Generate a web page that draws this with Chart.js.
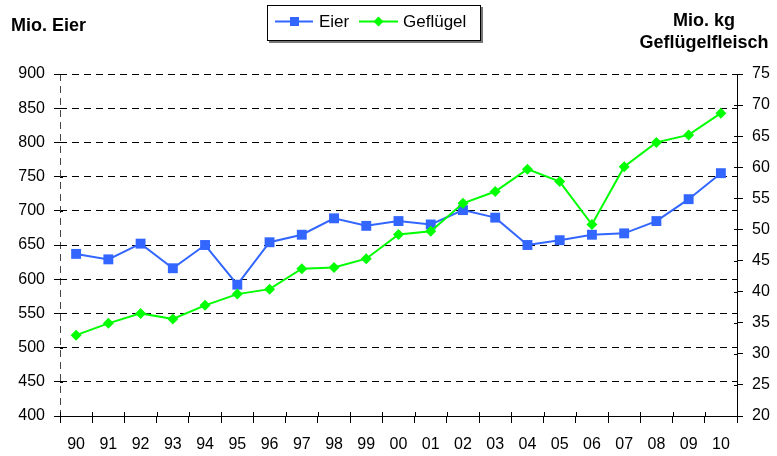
<!DOCTYPE html>
<html>
<head>
<meta charset="utf-8">
<script src="https://cdn.jsdelivr.net/npm/chart.js@4/dist/chart.umd.min.js"></script>
<style>
html,body{margin:0;padding:0;background:#fff;}
#wrap{position:relative;width:777px;height:456px;}
</style>
</head>
<body>
<div id="wrap"><canvas id="c" width="777" height="456"></canvas></div>
<script>
const categories = ['90','91','92','93','94','95','96','97','98','99','00','01','02','03','04','05','06','07','08','09','10'];
const eier = [637, 629, 652, 616, 650, 592, 654, 665, 689, 678, 685, 680, 701, 690, 650, 657, 665, 667, 685, 717, 755];
const gefluegel = [33.0, 34.9, 36.5, 35.6, 37.8, 39.6, 40.4, 43.7, 43.9, 45.3, 49.2, 49.7, 54.2, 56.1, 59.7, 57.7, 50.8, 60.1, 64.0, 65.2, 68.7];
const seriesNames = ['Eier', 'Geflügel'];
const leftTitle = 'Mio. Eier';
const rightTitle = ['Mio. kg', 'Geflügelfleisch'];

const FONT = '"Liberation Sans", Arial, sans-serif';
const BLUE = '#3366FF';
const GREEN = '#00FF00';

const decor = {
  id: 'decor',
  beforeDatasetsDraw(chart) {
    const ctx = chart.ctx;
    const a = chart.chartArea;
    ctx.save();
    // dashed left axis line
    ctx.strokeStyle = '#444';
    ctx.lineWidth = 1;
    ctx.setLineDash([7,5]);
    ctx.beginPath();
    ctx.moveTo(Math.round(a.left) + 0.5, a.top);
    ctx.lineTo(Math.round(a.left) + 0.5, a.bottom);
    ctx.stroke();
    ctx.setLineDash([]);
    // inner tick parts
    ctx.strokeStyle = '#000';
    const xs = chart.scales.x;
    const n = categories.length;
    const w = (xs.right - xs.left) / n;
    ctx.beginPath();
    for (let i = 0; i <= n; i++) {
      const x = Math.round(xs.left + i * w) + 0.5;
      ctx.moveTo(x, a.bottom - 4);
      ctx.lineTo(x, a.bottom);
    }
    const yl = chart.scales.y;
    yl.ticks.forEach(t => {
      const y = Math.round(yl.getPixelForValue(t.value)) + 0.5;
      ctx.moveTo(a.left, y); ctx.lineTo(a.left + 3, y);
    });
    const yr = chart.scales.y1;
    yr.ticks.forEach(t => {
      const y = Math.round(yr.getPixelForValue(t.value)) + 0.5;
      ctx.moveTo(a.right - 3, y); ctx.lineTo(a.right, y);
    });
    ctx.stroke();
    ctx.restore();
  },
  afterDraw(chart) {
    const ctx = chart.ctx;
    ctx.save();
    // axis titles
    ctx.fillStyle = '#000';
    ctx.font = 'bold 18px ' + FONT;
    ctx.textBaseline = 'alphabetic';
    ctx.textAlign = 'left';
    ctx.fillText(leftTitle, 11, 31);
    ctx.textAlign = 'center';
    ctx.fillText(rightTitle[0], 704, 26);
    ctx.fillText(rightTitle[1], 704, 48);
    // legend box
    const bx = 267, by = 5, bw = 214, bh = 36;
    ctx.fillStyle = '#777';
    ctx.fillRect(bx + 2, by + bh, bw, 2);
    ctx.fillRect(bx + bw, by + 2, 2, bh);
    ctx.fillStyle = '#fff';
    ctx.fillRect(bx, by, bw, bh);
    ctx.strokeStyle = '#000';
    ctx.lineWidth = 1;
    ctx.strokeRect(bx + 0.5, by + 0.5, bw - 1, bh - 1);
    const ly = 21.5;
    // Eier
    ctx.strokeStyle = BLUE; ctx.lineWidth = 2;
    ctx.beginPath(); ctx.moveTo(275, ly); ctx.lineTo(313, ly); ctx.stroke();
    ctx.fillStyle = BLUE;
    ctx.fillRect(290, ly - 4.5, 9, 9);
    // Geflügel
    ctx.strokeStyle = GREEN;
    ctx.beginPath(); ctx.moveTo(359, ly); ctx.lineTo(398, ly); ctx.stroke();
    ctx.fillStyle = GREEN;
    ctx.beginPath();
    ctx.moveTo(378.5, ly - 5); ctx.lineTo(383.5, ly); ctx.lineTo(378.5, ly + 5); ctx.lineTo(373.5, ly);
    ctx.closePath(); ctx.fill();
    ctx.fillStyle = '#000';
    ctx.font = '17px ' + FONT;
    ctx.textAlign = 'left';
    ctx.fillText(seriesNames[0], 319, 27);
    ctx.fillText(seriesNames[1], 403, 27);
    ctx.restore();
  }
};

new Chart(document.getElementById('c'), {
  type: 'line',
  data: {
    labels: categories,
    datasets: [
      {
        label: seriesNames[0], data: eier, yAxisID: 'y', order: 1,
        borderColor: BLUE, backgroundColor: BLUE, borderWidth: 2,
        pointStyle: 'rect', pointRadius: 7, pointHoverRadius: 7,
        pointBorderWidth: 0, pointBackgroundColor: BLUE, tension: 0
      },
      {
        label: seriesNames[1], data: gefluegel, yAxisID: 'y1', order: 0,
        borderColor: GREEN, backgroundColor: GREEN, borderWidth: 2,
        pointStyle: 'rectRot', pointRadius: 5.5, pointHoverRadius: 5.5,
        pointBorderWidth: 0, pointBackgroundColor: GREEN, tension: 0
      }
    ]
  },
  options: {
    responsive: false,
    animation: false,
    events: [],
    layout: { padding: { top: 74, left: 0, right: 0, bottom: 0 } },
    plugins: { legend: { display: false }, title: { display: false }, tooltip: { enabled: false } },
    scales: {
      x: {
        type: 'category',
        offset: true,
        grid: { offset: true, drawOnChartArea: false, tickLength: 7, color: '#000', tickColor: '#000' },
        border: { display: true, color: '#000', width: 1 },
        ticks: { color: '#000', font: { family: FONT, size: 16 }, padding: 12, maxRotation: 0, autoSkip: false },
        afterFit(s) { s.height = 40; }
      },
      y: {
        position: 'left',
        min: 400, max: 900,
        ticks: { stepSize: 50, color: '#000', font: { family: FONT, size: 16 }, padding: 9 },
        grid: { color: '#000', lineWidth: 1, tickLength: 6, tickColor: '#000', drawTicks: true },
        border: { display: false, dash: [7,5] },
        afterFit(s) { s.width = 60; }
      },
      y1: {
        position: 'right',
        min: 20, max: 75,
        ticks: { stepSize: 5, color: '#000', font: { family: FONT, size: 16 }, padding: 9 },
        grid: { drawOnChartArea: false, tickLength: 6, color: '#000', tickColor: '#000' },
        border: { display: true, color: '#000', width: 1 },
        afterFit(s) { s.width = 40; }
      }
    }
  },
  plugins: [decor]
});
</script>
</body>
</html>
